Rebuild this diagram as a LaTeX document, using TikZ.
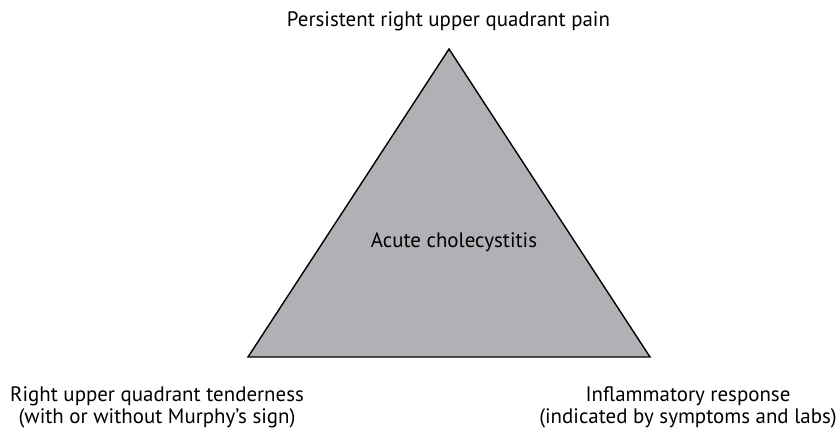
\documentclass[tikz,border=0pt]{standalone}
\usepackage{fontspec}
\setmainfont{PT Sans}
\definecolor{trifill}{RGB}{176,176,181}
\begin{document}
\begin{tikzpicture}[x=1pt,y=-1pt,
  lbl/.style={font=\fontsize{20.9}{22}\selectfont, inner sep=0pt, anchor=base}]
\useasboundingbox (0,0) rectangle (838,429);
\coordinate (A) at (449,49);
\coordinate (B) at (248,357);
\coordinate (C) at (650,357);
\draw[line width=1.4pt, fill=trifill, line join=miter] (A) -- (B) -- (C) -- cycle;
\node[lbl] (top) at (448.5,26.7) {Persistent right upper quadrant pain};
\node[lbl] (center) at (454,247) {Acute cholecystitis};
\node[lbl] (left1) at (157,401.5) {Right upper quadrant tenderness};
\node[lbl] (left2) at (157,423) {(with or without Murphy’s sign)};
\node[lbl] (right1) at (688,401.5) {Inflammatory response};
\node[lbl] (right2) at (688,423) {(indicated by symptoms and labs)};
\end{tikzpicture}
\end{document}
